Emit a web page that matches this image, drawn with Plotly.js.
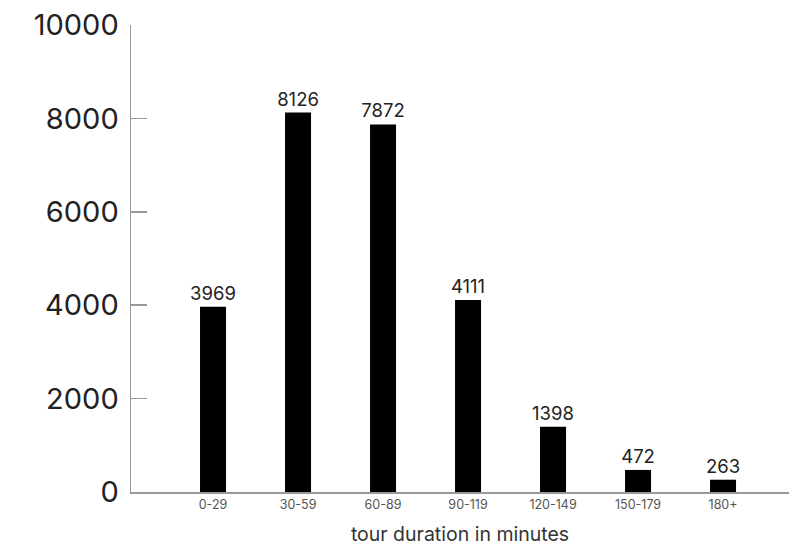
<!DOCTYPE html>
<html>
<head>
<meta charset="utf-8">
<script src="https://cdn.plot.ly/plotly-3.0.1.min.js"></script>
<style>html,body{margin:0;padding:0;background:#fff;}#chart{width:789px;height:546px;}</style>
</head>
<body>
<div id="chart"></div>
<script>
var categories = ["0-29", "30-59", "60-89", "90-119", "120-149", "150-179", "180+"];
var tourCounts = [3969, 8126, 7872, 4111, 1398, 472, 263];
var yTickValues = [0, 2000, 4000, 6000, 8000, 10000];

var trace = {
  type: "bar",
  x: categories,
  y: tourCounts,
  text: tourCounts.map(String),
  textposition: "outside",
  constraintext: "none",
  textfont: {family: "Inter, 'Open Sans', sans-serif", size: 18.5, color: "#222"},
  cliponaxis: false,
  marker: {color: "#000"},
  width: 0.306,
  hoverinfo: "x+y"
};

var layout = {
  width: 789,
  height: 546,
  margin: {l: 131, r: 0, t: 25, b: 54},
  paper_bgcolor: "#fff",
  plot_bgcolor: "#fff",
  showlegend: false,
  font: {family: "Inter, 'Open Sans', sans-serif", color: "#222"},
  xaxis: {
    type: "category",
    range: [-0.965, 6.776],
    showline: true,
    linecolor: "#999",
    linewidth: 1.5,
    ticks: "",
    showgrid: false,
    zeroline: false,
    tickfont: {size: 12.5, color: "#555"},
    title: {text: "tour duration in minutes", font: {size: 19.5, color: "#333"}, standoff: 18}
  },
  yaxis: {
    range: [0, 10000],
    tickvals: yTickValues,
    ticktext: yTickValues.map(String),
    showline: true,
    linecolor: "#999",
    linewidth: 1.5,
    ticks: "inside",
    ticklen: 16,
    tickwidth: 1.5,
    tickcolor: "#999",
    ticklabelstandoff: 5,
    showgrid: false,
    zeroline: false,
    tickfont: {size: 29, color: "#222"}
  },
  bargap: 0.7
};

Plotly.newPlot("chart", [trace], layout, {displayModeBar: false, staticPlot: true});
</script>
</body>
</html>
